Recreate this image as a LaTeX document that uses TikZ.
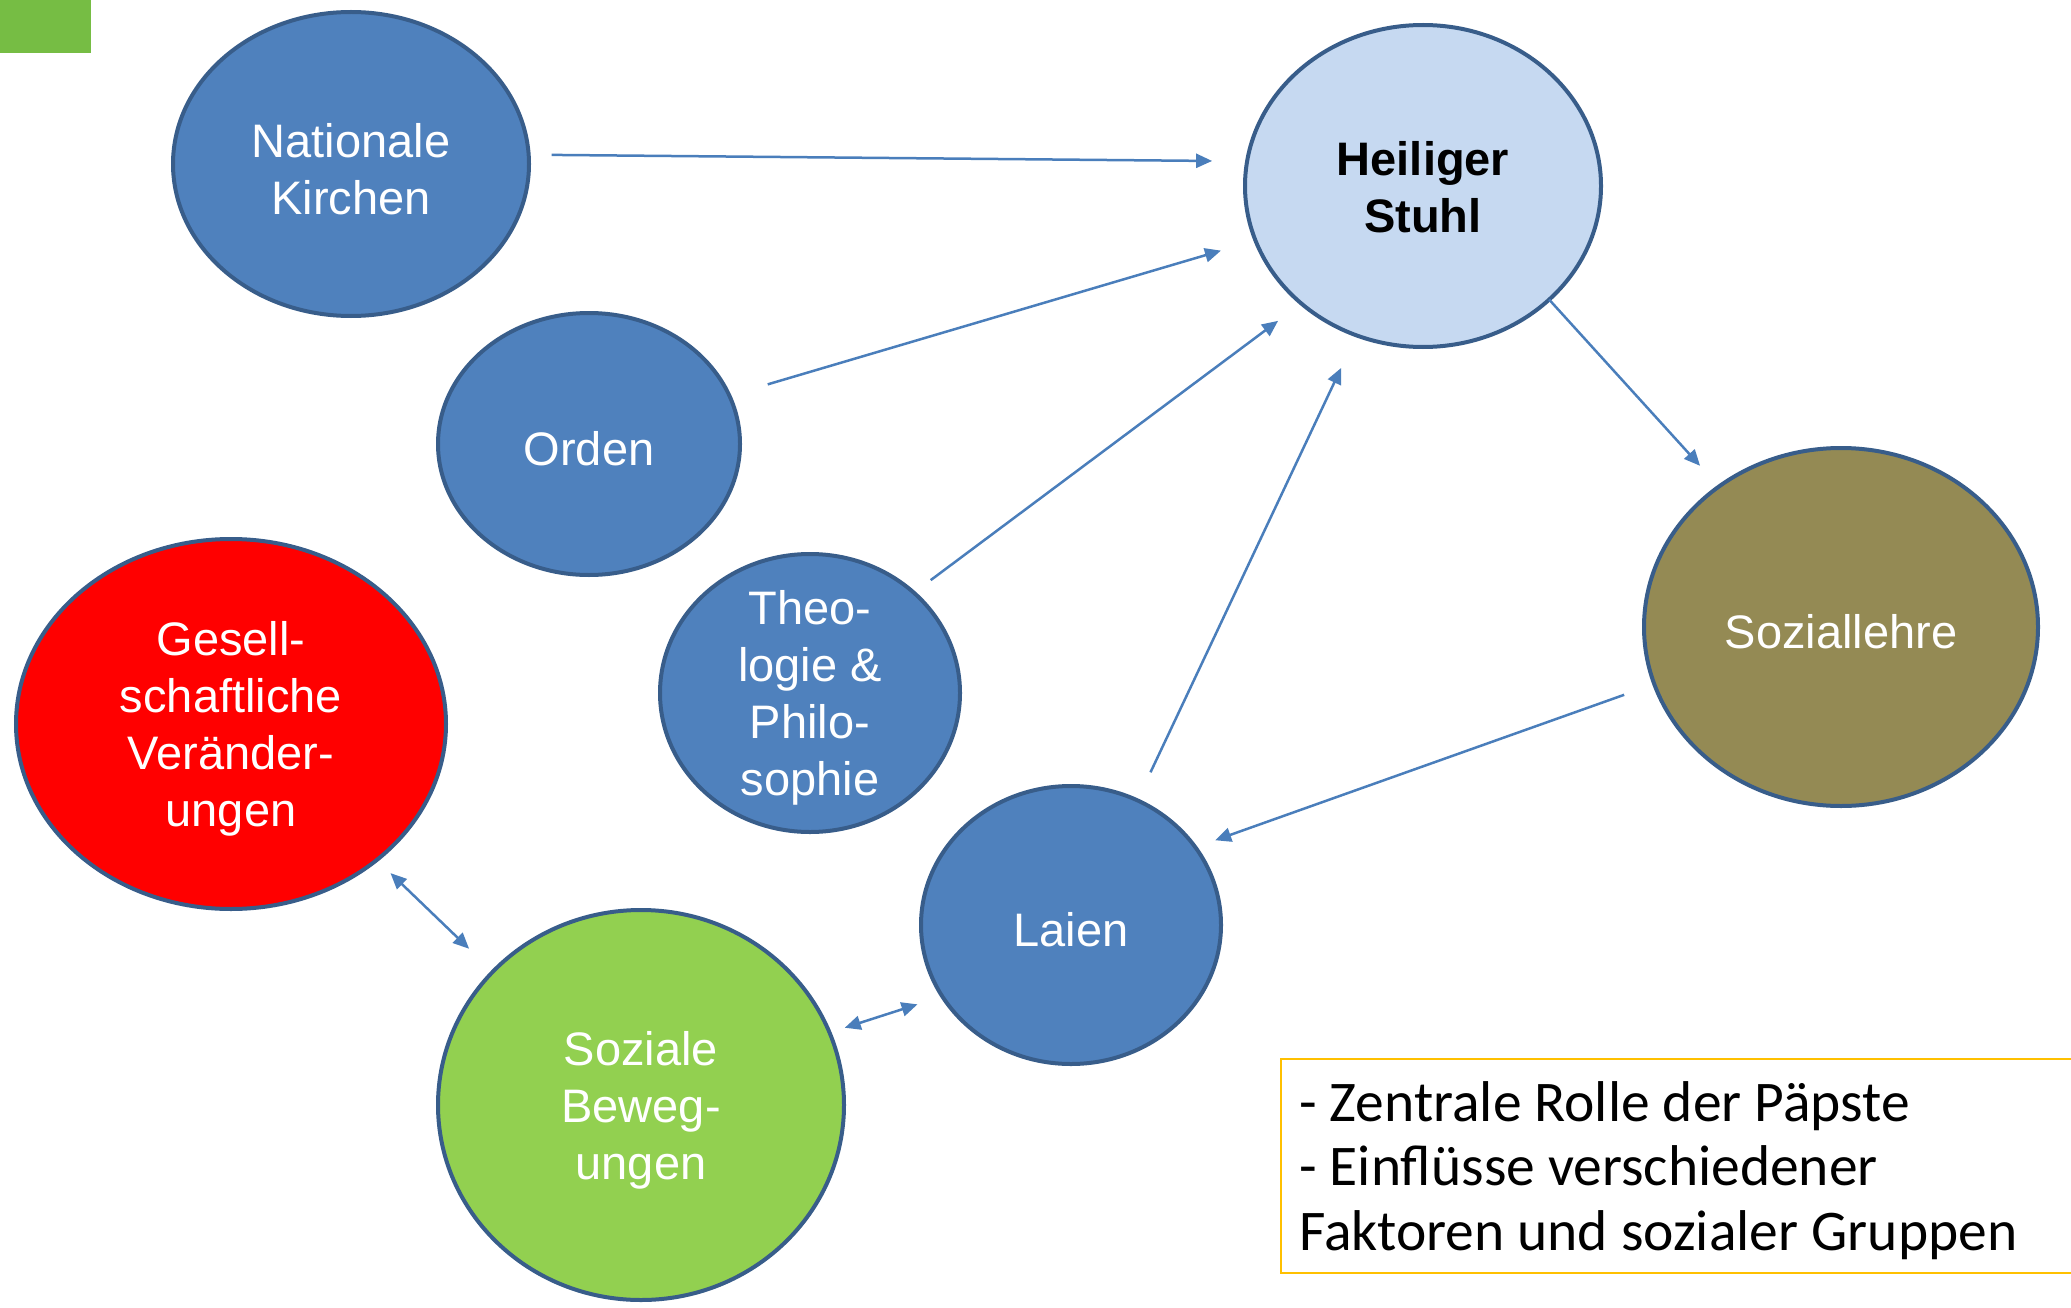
\documentclass[tikz,border=0pt]{standalone}
\usepackage{fontspec}
\setmainfont{Liberation Sans}
\newfontfamily\calibri{Carlito}
\usetikzlibrary{shapes.geometric,arrows.meta}
\definecolor{pblue}{HTML}{4F81BD}
\definecolor{pborder}{HTML}{385D8A}
\definecolor{plight}{HTML}{C6D9F1}
\definecolor{polive}{HTML}{948A54}
\definecolor{pgreen}{HTML}{92D050}
\definecolor{pred}{HTML}{FF0000}
\definecolor{arrowblue}{HTML}{4A7EBB}
\definecolor{cornergreen}{RGB}{118,189,68}
\definecolor{boxgold}{HTML}{FFC000}
\begin{document}
\begin{tikzpicture}[x=1pt,y=-1pt,
  blob/.style={ellipse, draw=pborder, line width=4pt, outer sep=0pt, inner sep=0pt},
  wtxt/.style={text=white, font=\fontsize{47}{57}\selectfont, align=center, inner sep=0pt, yshift=-5pt},
  btxt/.style={text=black, font=\fontsize{47}{57}\selectfont\bfseries, align=center, inner sep=0pt, yshift=-1pt},
  arr/.style={draw=arrowblue, line width=2.5pt, -{Triangle[length=16pt,width=14pt]}},
  darr/.style={draw=arrowblue, line width=2.5pt, {Triangle[length=16pt,width=14pt]}-{Triangle[length=16pt,width=14pt]}}
]
\useasboundingbox (0,0) rectangle (2071,1308);
\fill[cornergreen] (0,0) rectangle (91,53);

\node[blob, fill=pblue, minimum width=356pt, minimum height=304pt,
  label={[wtxt]center:{Nationale\\Kirchen}}] (nk) at (351,164) {};
\node[blob, fill=plight, minimum width=356pt, minimum height=322pt,
  label={[btxt]center:{Heiliger\\Stuhl}}] (hs) at (1423,186) {};
\node[blob, fill=pblue, minimum width=302pt, minimum height=262pt,
  label={[wtxt]center:{Orden}}] (ord) at (589,444) {};
\node[blob, fill=pblue, minimum width=300pt, minimum height=278pt,
  label={[wtxt]center:{Theo-\\logie \&\\Philo-\\sophie}}] (th) at (810,693) {};
\node[blob, fill=polive, minimum width=394pt, minimum height=358pt,
  label={[wtxt]center:{Soziallehre}}] (sl) at (1841,627) {};
\node[blob, fill=pred, minimum width=430pt, minimum height=370pt,
  label={[wtxt]center:{Gesell-\\schaftliche\\Veränder-\\ungen}}] (ge) at (231,724) {};
\node[blob, fill=pblue, minimum width=300pt, minimum height=278pt,
  label={[wtxt]center:{Laien}}] (la) at (1071,925) {};
\node[blob, fill=pgreen, minimum width=406pt, minimum height=390pt,
  label={[wtxt]center:{Soziale\\Beweg-\\ungen}}] (sb) at (641,1105) {};

\draw[arr, shorten <=23pt, shorten >=35pt] (nk.3) -- (hs.172);
\draw[arr, shorten <=40pt, shorten >=36pt] (ord.19) -- (hs.198);
\draw[arr, shorten <=21pt, shorten >=29pt] (th.44) -- (hs.224);
\draw[arr, shorten <=31pt, shorten >=36pt] (la.62) -- (hs.246);
\draw[arr, shorten >=28pt] (hs.-42) -- (sl.131);
\draw[arr, shorten <=32pt, shorten >=21pt] (sl.197) -- (la.32);
\draw[darr, shorten <=19pt, shorten >=33pt] (ge.-43) -- (sb.138);
\draw[darr, shorten <=16pt, shorten >=26pt] (sb.21) -- (la.209);

\node[draw=boxgold, line width=2pt, minimum width=820pt, minimum height=214pt,
  anchor=north west, inner sep=0pt] (box) at (1280,1058) {};
\node[anchor=north west, align=left, inner sep=0pt,
  font=\calibri\fontsize{57.5}{64.5}\selectfont] (boxtext) at (1299,1081)
  {- Zentrale Rolle der Päpste\\- Einflüsse verschiedener\\Faktoren und sozialer Gruppen};
\end{tikzpicture}
\end{document}
